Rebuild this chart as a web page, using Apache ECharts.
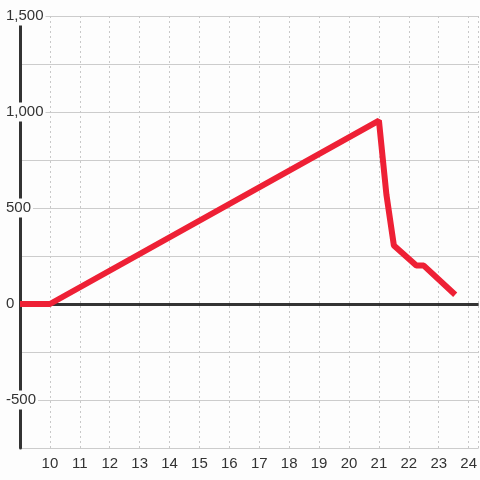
<!DOCTYPE html>
<html>
<head>
<meta charset="utf-8">
<script src="https://cdn.jsdelivr.net/npm/echarts@6/dist/echarts.min.js"></script>
<style>
  html, body { margin: 0; padding: 0; background: #fdfdfd; }
  #chart { width: 480px; height: 480px; }
</style>
</head>
<body>
<div id="chart"></div>
<script>
// points: [x, value]
const xValues = [9, 10, 21, 21.25, 21.5, 22.25, 22.5, 23.55];
const yValues = [0, 0, 955, 570, 305, 200, 200, 48];
const yLabelValues = [-500, 0, 500, 1000, 1500];

const chart = echarts.init(document.getElementById("chart"), null, { renderer: "canvas" });

const labelFont = { fontFamily: "Liberation Sans, Arial, sans-serif", fontSize: 15, color: "#333" };

chart.setOption({
  animation: false,
  backgroundColor: "#fdfdfd",
  grid: { left: 20, right: 0, top: 16, bottom: 32, containLabel: false },
  xAxis: {
    type: "value",
    min: 9,
    max: 24.333,
    interval: 1,
    axisLine: { show: false },
    axisTick: { show: false },
    axisLabel: {
      ...labelFont,
      margin: 8,
      showMinLabel: false,
      showMaxLabel: false,
      formatter: (v) => (Number.isInteger(v) && v > 9 ? String(v) : ""),
    },
    splitLine: { show: true, lineStyle: { color: "#c8c8c8", type: [2, 3], width: 1 } },
  },
  yAxis: {
    type: "value",
    min: -750,
    max: 1500,
    interval: 250,
    axisLine: { show: true, lineStyle: { color: "#333", width: 3 } },
    axisTick: { show: false },
    axisLabel: {
      ...labelFont,
      align: "left",
      margin: 14,
      backgroundColor: "#fdfdfd",
      padding: [4, 2, 0, 0],
      formatter: (v) => (yLabelValues.includes(v) ? v.toLocaleString("en-US") : ""),
    },
    splitLine: { show: true, lineStyle: { color: "#cccccc", width: 1 } },
  },
  series: [
    {
      // zero baseline
      type: "line",
      data: [],
      z: 1,
      markLine: {
        silent: true,
        symbol: "none",
        label: { show: false },
        lineStyle: { color: "#333", width: 3, type: "solid" },
        data: [{ yAxis: 0 }],
      },
    },
    {
      type: "line",
      data: xValues.map((x, i) => [x, yValues[i]]),
      showSymbol: false,
      symbol: "none",
      lineStyle: { color: "#ee2035", width: 6 },
      zlevel: 1,
      z: 5,
    },
  ],
});
</script>
</body>
</html>
